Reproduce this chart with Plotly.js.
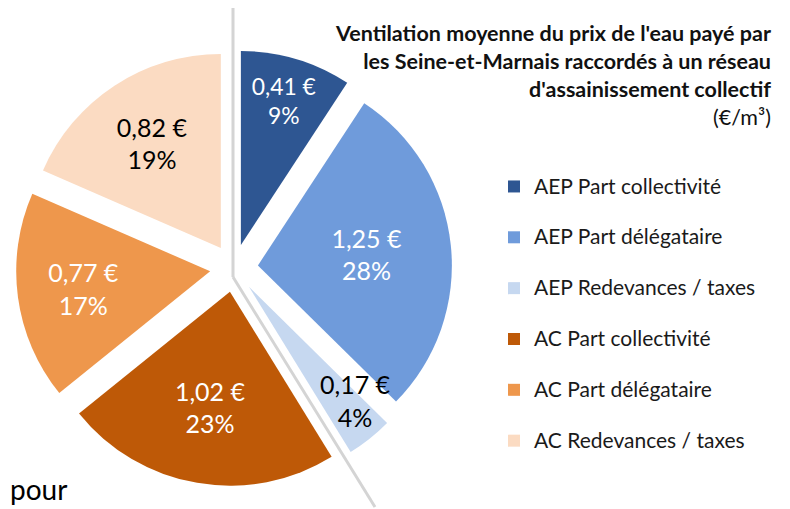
<!DOCTYPE html>
<html>
<head>
<meta charset="utf-8">
<script src="https://cdn.plot.ly/plotly-3.0.1.min.js"></script>
<style>html,body{margin:0;padding:0;background:#fff;}#chart{width:790px;height:509px;}</style>
</head>
<body>
<div id="chart"></div>
<script>
// ---- data ----
const categories = ["AEP Part collectivité", "AEP Part délégataire", "AEP Redevances / taxes",
                    "AC Part collectivité", "AC Part délégataire", "AC Redevances / taxes"];
const pricesEuro = [0.41, 1.25, 0.17, 1.02, 0.77, 0.82];
const percentLabels = ["9%", "28%", "4%", "23%", "17%", "19%"];
const titleLines = ["Ventilation moyenne du prix de l'eau payé par",
                    "les Seine-et-Marnais raccordés à un réseau",
                    "d'assainissement collectif"];
const unitLabel = "(€/m³)";
const footText = "pour";

// ---- styles ----
const colors = ["#2E5692", "#6F9BDB", "#C6D8F0", "#BE5907", "#EE974C", "#FBDBC2"];
const textColors = ["#ffffff", "#ffffff", "#000000", "#ffffff", "#ffffff", "#000000"];
const FONT = "Lato, 'Open Sans', sans-serif";
const W = 790, H = 509;
const px = x => x / W, py = y => 1 - y / H;

const smallIdx = 2; // slice whose label sits outside the inner text area
const textpos = categories.map((c, i) => i === smallIdx ? "none" : "inside");
const legendLabels = categories.map(c => '<span style="font-size:21px">' + c + '</span><br>\u00a0');

const trace = {
  type: "pie",
  labels: legendLabels,
  values: pricesEuro,
  customdata: percentLabels,
  sort: false,
  direction: "clockwise",
  rotation: 0,
  pull: 0.124,
  marker: { colors: colors, line: { width: 0 } },
  texttemplate: "%{value:.2f} €<br>%{customdata}",
  textposition: textpos,
  insidetextorientation: "horizontal",
  insidetextfont: { family: FONT, size: 25, color: textColors },
  hoverinfo: "none",
  domain: { x: [px(16), px(452)], y: [py(486), py(50)] }
};

const fmt = v => v.toFixed(2).replace(".", ",");

const layout = {
  width: W, height: H,
  margin: { l: 0, r: 0, t: 0, b: 0 },
  paper_bgcolor: "#ffffff",
  separators: ", ",
  showlegend: true,
  font: { family: FONT, color: "#000000" },
  legend: {
    x: px(494), xanchor: "left",
    y: py(168), yanchor: "top",
    font: { family: FONT, size: 18.4, color: "#1a1a1a" },
    valign: "top",
    bgcolor: "rgba(0,0,0,0)"
  },
  annotations: [
    {
      x: px(773), y: py(18), xref: "paper", yref: "paper",
      xanchor: "right", yanchor: "top", align: "right", showarrow: false,
      text: titleLines.map(t => "<b>" + t + "</b>").join("<br>") + "<br>" + unitLabel,
      font: { family: FONT, size: 21.5, color: "#111111" }
    },
    {
      x: px(355), y: py(400), xref: "paper", yref: "paper",
      xanchor: "center", yanchor: "middle", showarrow: false,
      text: fmt(pricesEuro[smallIdx]) + " €<br>" + percentLabels[smallIdx],
      font: { family: FONT, size: 25, color: textColors[smallIdx] }
    },
    {
      x: px(8), y: py(489), xref: "paper", yref: "paper",
      xanchor: "left", yanchor: "middle", showarrow: false,
      text: footText,
      font: { family: FONT, size: 28, color: "#000000" }
    }
  ],
  shapes: [
    { type: "line", xref: "paper", yref: "paper", x0: px(233), y0: py(8), x1: px(233), y1: py(277),
      line: { color: "#D4D4D4", width: 3 } },
    { type: "line", xref: "paper", yref: "paper", x0: px(233), y0: py(277), x1: px(375), y1: py(507),
      line: { color: "#D4D4D4", width: 3 } }
  ]
};

Plotly.newPlot("chart", [trace], layout, { displayModeBar: false, staticPlot: true });
</script>
</body>
</html>
